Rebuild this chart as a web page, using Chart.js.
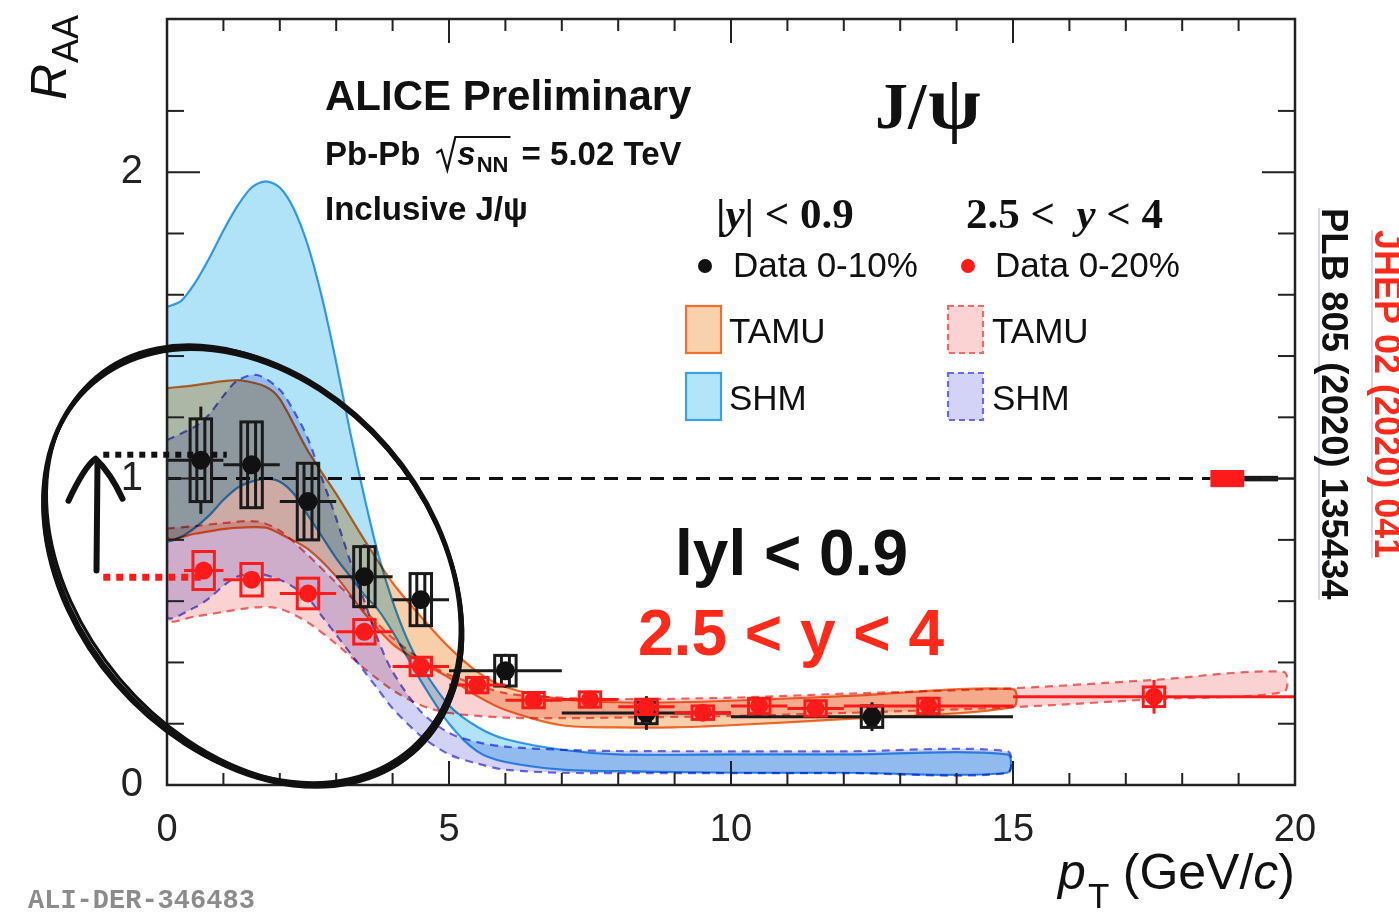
<!DOCTYPE html>
<html>
<head>
<meta charset="utf-8">
<script src="https://cdn.jsdelivr.net/npm/chart.js@4.4.1/dist/chart.umd.min.js"></script>
<style>
  body { margin: 0; background: #fff; }
  #wrap { width: 1399px; height: 912px; position: relative; }
</style>
</head>
<body>
<div id="wrap"><canvas id="raaChart"></canvas></div>
<script>
const SANS = '"Liberation Sans", Arial, Helvetica, sans-serif';
const SERIF = '"Liberation Serif", "Times New Roman", serif';
const MONO = '"Liberation Mono", "DejaVu Sans Mono", monospace';

// |y| < 0.9, 0-10% (black)
const midPt   = [0.6, 1.5, 2.5, 3.5, 4.5, 6.0, 8.5, 12.5];
const midRaa  = [1.06, 1.045, 0.925, 0.68, 0.605, 0.373, 0.235, 0.223];
const midPtLo = [0, 1, 2, 3, 4, 5, 7, 10];
const midPtHi = [1, 2, 3, 4, 5, 7, 10, 15];
const midStat = [0.175, 0.12, 0.115, 0.105, 0.085, 0.055, 0.055, 0.047];
const midSyst = [0.135, 0.14, 0.125, 0.098, 0.085, 0.05, 0.035, 0.035];

// 2.5 < y < 4, 0-20% (red)
const fwdPt   = [0.65, 1.5, 2.5, 3.5, 4.5, 5.5, 6.5, 7.5, 8.5, 9.5, 10.5, 11.5, 13.5, 17.5];
const fwdRaa  = [0.70, 0.67, 0.625, 0.50, 0.387, 0.326, 0.277, 0.279, 0.255, 0.236, 0.258, 0.25, 0.258, 0.288];
const fwdPtLo = [0.3, 1, 2, 3, 4, 5, 6, 7, 8, 9, 10, 11, 12, 15];
const fwdPtHi = [1, 2, 3, 4, 5, 6, 7, 8, 9, 10, 11, 12, 15, 20];
const fwdStat = [0.02, 0.015, 0.015, 0.015, 0.012, 0.012, 0.012, 0.012, 0.02, 0.015, 0.025, 0.02, 0.025, 0.055];
const fwdSyst = [0.062, 0.053, 0.05, 0.04, 0.03, 0.025, 0.025, 0.025, 0.025, 0.022, 0.025, 0.025, 0.025, 0.032];

// model bands
const shmMidPt = [0, 0.25, 0.5, 0.75, 1, 1.25, 1.5, 1.75, 2, 2.25, 2.5, 2.75, 3, 3.25, 3.5, 3.75, 4, 4.25, 4.5, 5, 5.5, 6, 7, 8, 10, 12, 14.9];
const shmMidHi = [1.56, 1.58, 1.64, 1.72, 1.81, 1.89, 1.95, 1.97, 1.95, 1.88, 1.76, 1.59, 1.38, 1.15, 0.94, 0.75, 0.60, 0.48, 0.39, 0.26, 0.19, 0.15, 0.115, 0.10, 0.10, 0.10, 0.10];
const shmMidLo = [0.80, 0.81, 0.84, 0.88, 0.93, 0.97, 0.99, 1.0, 0.99, 0.95, 0.88, 0.81, 0.74, 0.68, 0.62, 0.57, 0.50, 0.42, 0.34, 0.20, 0.11, 0.075, 0.05, 0.045, 0.04, 0.04, 0.04];

const tamuMidPt = [0, 0.5, 1, 1.3, 1.75, 2, 2.5, 3, 3.5, 4, 4.5, 5, 5.5, 6, 7, 8, 9, 10, 12, 15];
const tamuMidHi = [1.295, 1.305, 1.318, 1.321, 1.30, 1.26, 1.09, 0.95, 0.80, 0.66, 0.55, 0.45, 0.37, 0.32, 0.28, 0.27, 0.27, 0.275, 0.29, 0.313];
const tamuMidLo = [0.81, 0.82, 0.835, 0.84, 0.84, 0.82, 0.77, 0.68, 0.56, 0.46, 0.40, 0.35, 0.29, 0.245, 0.195, 0.188, 0.188, 0.195, 0.215, 0.254];

const tamuFwdPt = [0, 0.5, 1, 1.6, 2, 2.5, 3, 3.5, 4, 4.5, 5, 6, 7, 8, 10, 12, 15, 17.5, 19.8];
const tamuFwdHi = [0.837, 0.845, 0.855, 0.86, 0.83, 0.75, 0.66, 0.57, 0.48, 0.41, 0.36, 0.30, 0.285, 0.28, 0.285, 0.298, 0.316, 0.343, 0.369];
const tamuFwdLo = [0.54, 0.55, 0.565, 0.58, 0.575, 0.53, 0.46, 0.38, 0.31, 0.26, 0.235, 0.22, 0.218, 0.22, 0.225, 0.235, 0.254, 0.28, 0.304];

const shmFwdPt = [0, 0.5, 0.75, 1, 1.25, 1.6, 2, 2.25, 2.5, 2.75, 3, 3.25, 3.5, 3.75, 4, 4.5, 5, 5.5, 6, 7, 8, 10, 12, 14.9];
const shmFwdHi = [1.126, 1.17, 1.21, 1.27, 1.32, 1.338, 1.29, 1.22, 1.13, 1.0, 0.87, 0.73, 0.60, 0.47, 0.37, 0.24, 0.17, 0.14, 0.125, 0.115, 0.111, 0.11, 0.11, 0.11];
const shmFwdLo = [0.55, 0.58, 0.61, 0.65, 0.68, 0.69, 0.67, 0.645, 0.61, 0.55, 0.49, 0.43, 0.37, 0.31, 0.25, 0.16, 0.10, 0.07, 0.05, 0.04, 0.039, 0.039, 0.039, 0.039];

// global uncertainties at R_AA = 1
const globalFwd = { lo: 18.5, hi: 19.1, err: 0.028 };
const globalMid = { lo: 19.1, hi: 19.7, err: 0.009 };

// hand-drawn annotation (data units)
const arrowX = -1.25, arrowFrom = 0.70, arrowTo = 1.065;
const blackDotY = 1.078, blackDotX = [-1.13, 1.06];
const redDotY = 0.678, redDotX = [-1.13, 0.6];
const ellipseCenter = { x: 1.525, y: 0.715 };

const BOX_HALF = 0.19;

function bandShape(pt, hi, lo) {
  const pts = pt.map((x, i) => ({ x, y: hi[i] }));
  for (let i = pt.length - 1; i >= 0; i--) pts.push({ x: pt[i], y: lo[i] });
  pts.push({ x: pt[0], y: hi[0] });
  return pts;
}

// bands are opaque tints, blended with 'multiply' so overlaps darken like the ROOT plot
function band(label, pt, hi, lo, fill, edge, dashed, order) {
  return {
    type: 'line', label, data: bandShape(pt, hi, lo), fill: 'shape', isBand: true,
    backgroundColor: fill, borderColor: edge, borderWidth: 2.2,
    borderDash: dashed ? [8, 6] : [], pointRadius: 0, tension: 0.3, order
  };
}

const datasets = [
  band('SHM |y|<0.9', shmMidPt, shmMidHi, shmMidLo, '#b0e3f8', '#3aa0ea', false, 10),
  band('SHM 2.5<y<4', shmFwdPt, shmFwdHi, shmFwdLo, '#d2d2f6', '#6b6be8', true, 9),
  band('TAMU |y|<0.9', tamuMidPt, tamuMidHi, tamuMidLo, '#f9cfaa', '#f07030', false, 8),
  band('TAMU 2.5<y<4', tamuFwdPt, tamuFwdHi, tamuFwdLo, '#fbd2d2', '#f06a6a', true, 7),
  {
    type: 'line', label: 'unity', data: [{ x: 0, y: 1 }, { x: globalFwd.lo, y: 1 }],
    borderColor: '#111', borderWidth: 3, borderDash: [14, 9], pointRadius: 0, fill: false, order: 5
  },
  {
    type: 'scatter', label: 'Data 0-10%', data: midPt.map((x, i) => ({ x, y: midRaa[i] })),
    pointRadius: 9.5, pointBackgroundColor: '#111', pointBorderWidth: 0, order: 2,
    errs: { pt: midPt, raa: midRaa, lo: midPtLo, hi: midPtHi, stat: midStat, syst: midSyst, color: '#1a1a1a', inner: true }
  },
  {
    type: 'scatter', label: 'Data 0-20%', data: fwdPt.map((x, i) => ({ x, y: fwdRaa[i] })),
    pointRadius: 9, pointBackgroundColor: '#ff1a1a', pointBorderWidth: 0, order: 1,
    errs: { pt: fwdPt, raa: fwdRaa, lo: fwdPtLo, hi: fwdPtHi, stat: fwdStat, syst: fwdSyst, color: '#ff1a1a', inner: false }
  }
];

function seg(ctx, x1, y1, x2, y2) {
  ctx.beginPath(); ctx.moveTo(x1, y1); ctx.lineTo(x2, y2); ctx.stroke();
}

function drawErrors(chart, e) {
  const { ctx, scales: { x, y } } = chart;
  ctx.save();
  ctx.strokeStyle = e.color;
  ctx.lineWidth = 3;
  for (let i = 0; i < e.pt.length; i++) {
    const px = x.getPixelForValue(e.pt[i]), py = y.getPixelForValue(e.raa[i]);
    const bt = y.getPixelForValue(e.raa[i] + e.syst[i]), bb = y.getPixelForValue(e.raa[i] - e.syst[i]);
    const st = y.getPixelForValue(e.raa[i] + e.stat[i]), sb = y.getPixelForValue(e.raa[i] - e.stat[i]);
    const bl = x.getPixelForValue(e.pt[i] - BOX_HALF), br = x.getPixelForValue(e.pt[i] + BOX_HALF);
    seg(ctx, x.getPixelForValue(e.lo[i]), py, x.getPixelForValue(e.hi[i]), py);
    if (e.inner) {
      if (st < bt) seg(ctx, px, st, px, bt);
      if (sb > bb) seg(ctx, px, bb, px, sb);
      seg(ctx, px - 4, bt, px - 4, bb);
      seg(ctx, px + 4, bt, px + 4, bb);
    } else {
      seg(ctx, px, st, px, sb);
    }
    ctx.strokeRect(bl, bt, br - bl, bb - bt);
  }
  ctx.restore();
}

function put(ctx, s, x, y, font, color) {
  ctx.font = font; ctx.fillStyle = color; ctx.fillText(s, x, y);
  return x + ctx.measureText(s).width;
}

function drawFrame(chart) {
  const { ctx, chartArea: a, scales: { x, y } } = chart;
  ctx.save();
  ctx.strokeStyle = '#222';
  ctx.lineWidth = 2.5;
  ctx.strokeRect(a.left, a.top, a.right - a.left, a.bottom - a.top);
  ctx.lineWidth = 2;
  x.ticks.forEach(t => {
    if (t.value <= x.min || t.value >= x.max) return;
    const p = x.getPixelForValue(t.value);
    const len = t.value % 5 === 0 ? 24 : 12;
    seg(ctx, p, a.bottom, p, a.bottom - len);
    seg(ctx, p, a.top, p, a.top + len);
  });
  y.ticks.forEach(t => {
    if (t.value <= y.min || t.value >= y.max) return;
    const p = y.getPixelForValue(t.value);
    const major = Math.abs(t.value - Math.round(t.value)) < 1e-6;
    const len = major ? 33 : 17;
    seg(ctx, a.left, p, a.left + len, p);
    seg(ctx, a.right, p, a.right - len, p);
  });
  ctx.restore();
}

function drawGlobal(chart) {
  const { ctx, scales: { x, y } } = chart;
  ctx.save();
  const fx = x.getPixelForValue(globalFwd.lo), fw = x.getPixelForValue(globalFwd.hi) - fx;
  const ft = y.getPixelForValue(1 + globalFwd.err), fh = y.getPixelForValue(1 - globalFwd.err) - ft;
  ctx.fillStyle = '#ff1a1a';
  ctx.fillRect(fx, ft, fw, fh);
  const mx = x.getPixelForValue(globalMid.lo), mw = x.getPixelForValue(globalMid.hi) - mx;
  const mt = y.getPixelForValue(1 + globalMid.err), mh = y.getPixelForValue(1 - globalMid.err) - mt;
  ctx.fillStyle = '#1a1a1a';
  ctx.fillRect(mx, mt, mw, mh);
  ctx.strokeStyle = '#1a1a1a'; ctx.lineWidth = 2;
  seg(ctx, mx + mw, y.getPixelForValue(1), x.getPixelForValue(20), y.getPixelForValue(1));
  ctx.restore();
}

function drawTexts(chart) {
  const { ctx } = chart;
  ctx.save();
  ctx.textBaseline = 'alphabetic';
  const ink = '#111';
  put(ctx, 'ALICE Preliminary', 325, 110, `bold 42px ${SANS}`, ink);

  let cx = put(ctx, 'Pb-Pb', 325, 165, `bold 33px ${SANS}`, ink) + 16;
  ctx.strokeStyle = ink; ctx.lineWidth = 2.2;
  ctx.beginPath();
  ctx.moveTo(cx, 153); ctx.lineTo(cx + 5, 150); ctx.lineTo(cx + 11, 170); ctx.lineTo(cx + 19, 137);
  let ex = put(ctx, 's', cx + 21, 165, `italic bold 33px ${SANS}`, ink);
  ex = put(ctx, 'NN', ex + 1, 172, `bold 22px ${SANS}`, ink);
  ctx.lineTo(ex + 2, 137);
  ctx.stroke();
  put(ctx, ' = 5.02 TeV', ex + 4, 165, `bold 33px ${SANS}`, ink);

  put(ctx, 'Inclusive J/\u03c8', 325, 220, `bold 33px ${SANS}`, ink);
  let jx = put(ctx, 'J/', 875, 128, `bold 66px ${SERIF}`, ink);
  put(ctx, '\u03c8', jx + 2, 128, `bold 76px ${SERIF}`, ink);

  // legend headers
  let hx = put(ctx, '|', 716, 228, `bold 43px ${SERIF}`, ink);
  hx = put(ctx, 'y', hx, 228, `italic bold 43px ${SERIF}`, ink);
  put(ctx, '| < 0.9', hx, 228, `bold 43px ${SERIF}`, ink);
  hx = put(ctx, '2.5 <  ', 966, 228, `bold 43px ${SERIF}`, ink);
  hx = put(ctx, 'y', hx, 228, `italic bold 43px ${SERIF}`, ink);
  put(ctx, ' < 4', hx, 228, `bold 43px ${SERIF}`, ink);

  ctx.fillStyle = '#111';
  ctx.beginPath(); ctx.arc(705, 266, 7, 0, Math.PI * 2); ctx.fill();
  put(ctx, 'Data 0-10%', 733, 277, `35px ${SANS}`, ink);
  ctx.fillStyle = '#ff1a1a';
  ctx.beginPath(); ctx.arc(968, 266, 7, 0, Math.PI * 2); ctx.fill();
  put(ctx, 'Data 0-20%', 995, 277, `35px ${SANS}`, ink);

  const boxes = [
    [686, 306, '#fad1ad', '#f07030', false, 'TAMU', 729, 343],
    [686, 373, '#b3e5f9', '#3aa0ea', false, 'SHM', 729, 410],
    [948, 306, '#fbd3d3', '#f06a6a', true, 'TAMU', 992, 343],
    [948, 373, '#d3d3f7', '#6b6be8', true, 'SHM', 992, 410]
  ];
  boxes.forEach(([bx, by, f, s, d, lab, tx, ty]) => {
    ctx.fillStyle = f; ctx.fillRect(bx, by, 35, 47);
    ctx.strokeStyle = s; ctx.lineWidth = 2.2; ctx.setLineDash(d ? [6, 4] : []);
    ctx.strokeRect(bx, by, 35, 47);
    ctx.setLineDash([]);
    put(ctx, lab, tx, ty, `35px ${SANS}`, ink);
  });

  put(ctx, 'lyl < 0.9', 675, 575, `bold 64px ${SANS}`, ink);
  put(ctx, '2.5 < y < 4', 638, 655, `bold 64px ${SANS}`, '#ff2a1a');

  // rotated references
  const refs = [['PLB 805 (2020) 135434', 1322, 208, ink, 36.5], ['JHEP 02 (2020) 041', 1375, 230, '#ff2a1a', 36]];
  refs.forEach(([s, rx, ry, col, fs]) => {
    ctx.save();
    ctx.translate(rx, ry); ctx.rotate(Math.PI / 2);
    ctx.font = `bold ${fs}px ${SANS}`;
    const w = ctx.measureText(s).width;
    ctx.strokeStyle = '#c8c8f0'; ctx.lineWidth = 1.5;
    seg(ctx, 0, 3, w, 3);
    ctx.fillStyle = col; ctx.fillText(s, 0, 0);
    ctx.restore();
  });

  put(ctx, 'ALI-DER-346483', 28, 908, `bold 27px ${MONO}`, '#8c8c8c');

  // axis titles
  const af = `50px ${SANS}`, afi = `italic 50px ${SANS}`;
  ctx.font = af;
  let rx = 1295 - ctx.measureText(')').width;
  put(ctx, ')', rx, 889, af, ink);
  ctx.font = afi;
  rx -= ctx.measureText('c').width;
  put(ctx, 'c', rx, 889, afi, ink);
  ctx.font = af;
  rx -= ctx.measureText('(GeV/').width;
  put(ctx, '(GeV/', rx, 889, af, ink);
  put(ctx, 'p', 1058, 889, afi, ink);
  put(ctx, 'T', 1088, 908, `35px ${SANS}`, ink);

  ctx.save();
  ctx.translate(66, 100); ctx.rotate(-Math.PI / 2);
  const rw = put(ctx, 'R', 0, 0, `italic 50px ${SANS}`, ink);
  put(ctx, 'AA', rw + 1, 12, `36px ${SANS}`, ink);
  ctx.restore();
  ctx.restore();
}

function drawAnnotation(chart) {
  const { ctx, scales: { x, y } } = chart;
  ctx.save();
  ctx.lineCap = 'butt';
  ctx.strokeStyle = '#111'; ctx.lineWidth = 6; ctx.setLineDash([6, 6]);
  seg(ctx, x.getPixelForValue(blackDotX[0]), y.getPixelForValue(blackDotY), x.getPixelForValue(blackDotX[1]), y.getPixelForValue(blackDotY));
  ctx.strokeStyle = '#ff1a1a'; ctx.lineWidth = 7; ctx.setLineDash([7, 6]);
  seg(ctx, x.getPixelForValue(redDotX[0]), y.getPixelForValue(redDotY), x.getPixelForValue(redDotX[1]), y.getPixelForValue(redDotY));
  ctx.setLineDash([]);

  ctx.strokeStyle = '#111'; ctx.lineWidth = 6; ctx.lineCap = 'round'; ctx.lineJoin = 'round';
  const ax = x.getPixelForValue(arrowX), a0 = y.getPixelForValue(arrowFrom), a1 = y.getPixelForValue(arrowTo);
  seg(ctx, ax, a0, ax + 1, a1 + 4);
  ctx.beginPath();
  ctx.moveTo(ax - 28, a1 + 42); ctx.quadraticCurveTo(ax - 12, a1 + 8, ax - 1, a1);
  ctx.quadraticCurveTo(ax + 14, a1 + 14, ax + 26, a1 + 40);
  ctx.stroke();

  // marker-like ellipse: a few thin passes slightly offset from each other
  const ecx = x.getPixelForValue(ellipseCenter.x), ecy = y.getPixelForValue(ellipseCenter.y);
  const passes = [[0, 0, 0, 0], [1.5, -1, 2, -1.5], [-1.5, 1, -2, 1.5], [0.5, 1.5, 1, 1], [-1, -1.5, -1, 2]];
  ctx.lineWidth = 3.2;
  passes.forEach(([dx, dy, da, db]) => {
    ctx.beginPath();
    ctx.ellipse(ecx + dx, ecy + dy, 244 + da, 178 + db, (49.5 + dx * 0.3) * Math.PI / 180, 0, Math.PI * 2);
    ctx.stroke();
  });
  ctx.restore();
}

const raaPlugin = {
  id: 'raaPlugin',
  beforeDatasetsDraw(chart) {
    chart.ctx.globalCompositeOperation = 'multiply';
  },
  beforeDatasetDraw(chart, args) {
    const ds = chart.data.datasets[args.index];
    if (ds.errs) {
      chart.ctx.globalCompositeOperation = 'source-over';
      drawErrors(chart, ds.errs);
    }
  },
  afterDatasetsDraw(chart) {
    chart.ctx.globalCompositeOperation = 'source-over';
    drawGlobal(chart);
    drawFrame(chart);
  },
  afterDraw(chart) {
    drawTexts(chart);
    drawAnnotation(chart);
  }
};

new Chart(document.getElementById('raaChart'), {
  type: 'line',
  data: { datasets },
  options: {
    responsive: true,
    maintainAspectRatio: false,
    animation: false,
    events: [],
    layout: { padding: { top: 19, right: 104, left: 0, bottom: 0 } },
    plugins: { legend: { display: false }, tooltip: { enabled: false } },
    scales: {
      x: {
        type: 'linear', min: 0, max: 20,
        grid: { display: false }, border: { display: false },
        ticks: {
          stepSize: 1, autoSkip: false, maxRotation: 0, padding: 15, color: '#222',
          font: { family: SANS, size: 38 },
          callback: v => (v % 5 === 0 ? String(v) : '')
        },
        afterFit: s => { s.height = 127; s.paddingLeft = 0; s.paddingRight = 0; }
      },
      y: {
        type: 'linear', min: 0, max: 2.5,
        grid: { display: false }, border: { display: false },
        ticks: {
          stepSize: 0.2, autoSkip: false, padding: 16, color: '#222',
          font: { family: SANS, size: 40 },
          callback: v => (Math.abs(v - Math.round(v)) < 1e-6 ? String(Math.round(v)) : '')
        },
        afterFit: s => { s.width = 167; s.paddingTop = 0; s.paddingBottom = 0; }
      }
    }
  },
  plugins: [raaPlugin]
});
</script>
</body>
</html>
